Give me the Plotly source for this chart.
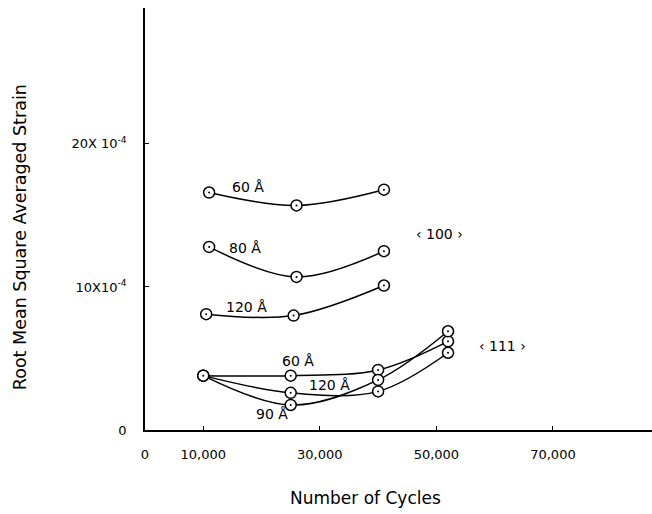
import plotly.graph_objects as go

# <100> series
x100 = [11000, 26000, 41000]
y100_60 = [16.6, 15.7, 16.8]
y100_80 = [12.8, 10.7, 12.5]
x100_120 = [10500, 25500, 41000]
y100_120 = [8.1, 8.0, 10.1]

# <111> series
x111 = [10000, 25000, 40000, 52000]
y111_60 = [3.8, 3.8, 4.2, 6.2]
y111_120 = [3.8, 2.6, 2.7, 5.4]
y111_90 = [3.8, 1.75, 3.5, 6.9]

xtick_vals = [0, 10000, 30000, 50000, 70000]
xtick_text = ["0", "10,000", "30,000", "50,000", "70,000"]
ytick_vals = [0, 10, 20]
ytick_text = ["0", "10X10<sup>-4</sup>", "20X 10<sup>-4</sup>"]

labels = [
    ("60 Å", 17700, 17.0),
    ("80 Å", 17200, 12.7),
    ("120 Å", 17500, 8.6),
    ("‹ 100 ›", 50600, 13.7),
    ("‹ 111 ›", 61400, 5.9),
    ("60 Å", 26200, 4.8),
    ("120 Å", 31700, 3.15),
    ("90 Å", 21800, 1.1),
]

FONT = "DejaVu Sans"
fig = go.Figure()
series = [
    (x100, y100_60), (x100, y100_80), (x100_120, y100_120),
    (x111, y111_60), (x111, y111_120), (x111, y111_90),
]
for xs, ys in series:
    fig.add_trace(go.Scatter(
        x=xs, y=ys, mode="lines+markers",
        line=dict(color="black", width=1.5, shape="spline", smoothing=1),
        marker=dict(symbol="circle", size=11, color="white",
                    line=dict(color="black", width=1.5)),
        showlegend=False, hoverinfo="skip",
    ))
    fig.add_trace(go.Scatter(
        x=xs, y=ys, mode="markers",
        marker=dict(symbol="circle", size=2, color="black"),
        showlegend=False, hoverinfo="skip",
    ))

for txt, x, y in labels:
    fig.add_annotation(x=x, y=y, text=txt, showarrow=False,
                       font=dict(family=FONT, size=14, color="black"))

fig.add_annotation(xref="paper", yref="paper", x=0.434, y=-0.161,
                   xanchor="center", yanchor="middle",
                   text="Number of Cycles", showarrow=False,
                   font=dict(family=FONT, size=17, color="black"))
fig.add_annotation(xref="paper", yref="paper", x=-0.2465, y=0.457,
                   xanchor="center", yanchor="middle",
                   text="Root Mean Square Averaged Strain", showarrow=False,
                   textangle=-90,
                   font=dict(family=FONT, size=17.5, color="black"))

fig.update_xaxes(
    range=[0, 87000], tickvals=xtick_vals, ticktext=xtick_text,
    showline=True, linecolor="black", linewidth=1.5,
    ticks="inside", ticklen=4, tickcolor="black",
    showgrid=False, zeroline=False, ticklabelstandoff=12,
    tickfont=dict(family=FONT, size=13, color="black"),
    automargin=False,
)
fig.update_yaxes(
    range=[0, 29.5], tickvals=ytick_vals, ticktext=ytick_text,
    showline=True, linecolor="black", linewidth=1.5,
    ticks="inside", ticklen=4, tickcolor="black",
    showgrid=False, zeroline=False, ticklabelstandoff=14,
    tickfont=dict(family=FONT, size=13, color="black"),
    automargin=False,
)
fig.update_layout(
    width=652, height=514,
    margin=dict(l=145, r=0, t=8, b=84),
    paper_bgcolor="white", plot_bgcolor="white",
)
fig.write_html("out.html")
